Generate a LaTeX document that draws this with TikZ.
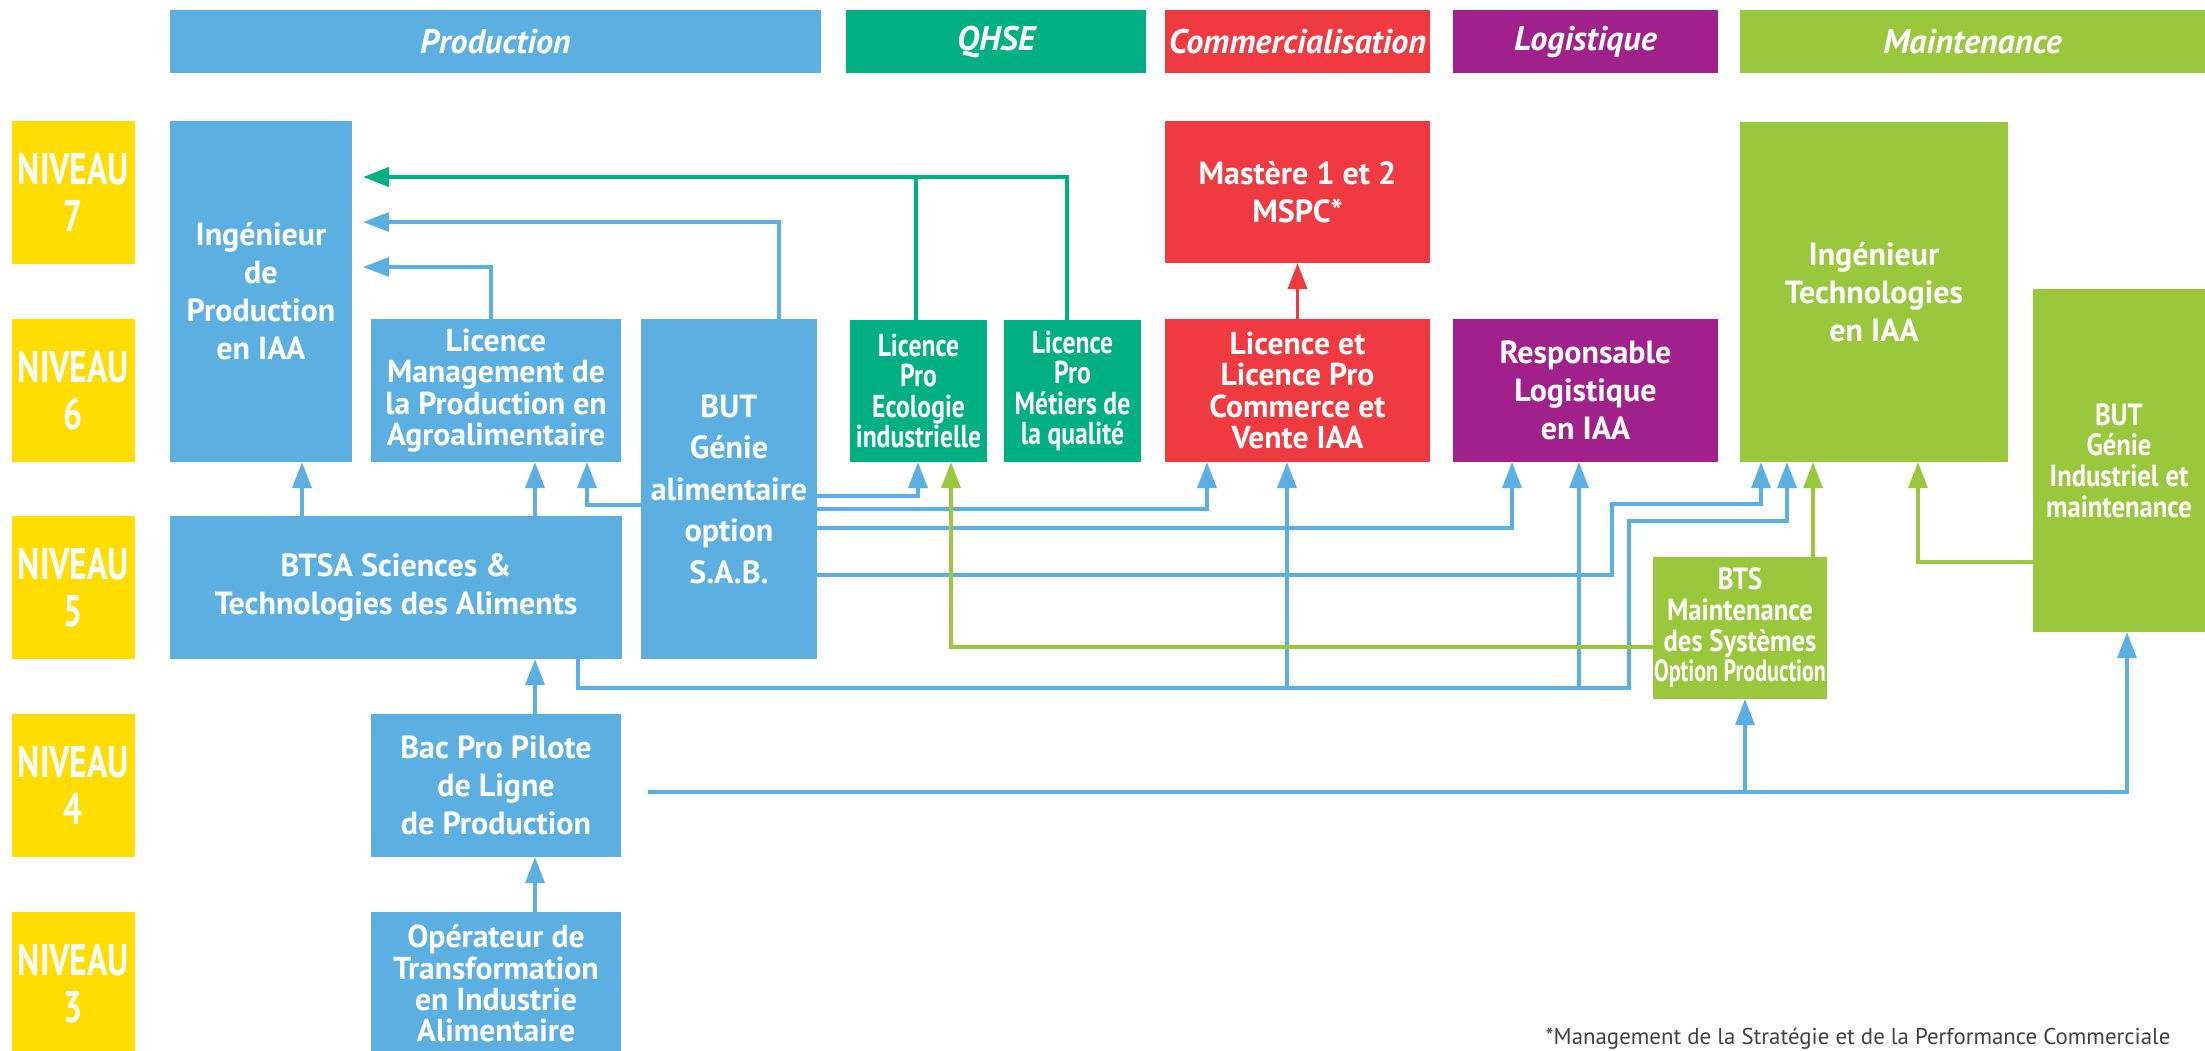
\documentclass[tikz,border=0pt]{standalone}
\usepackage{fontspec}
\setmainfont{PT Sans}
\newfontfamily\condA{PT Sans}[FakeStretch=0.81]
\newfontfamily\condB{PT Sans}[FakeStretch=0.87]
\newfontfamily\condC{PT Sans}[FakeStretch=0.72]
\newfontfamily\nivfont{PT Sans}[FakeStretch=0.76]
\usetikzlibrary{arrows.meta,calc}
\definecolor{cprod}{RGB}{91,176,225}
\definecolor{cqhse}{RGB}{0,175,130}
\definecolor{ccom}{RGB}{238,58,64}
\definecolor{clog}{RGB}{160,33,140}
\definecolor{cmaint}{RGB}{153,200,60}
\definecolor{cniv}{RGB}{255,221,0}
\newcommand\bx[7]{%
  \pgfmathsetmacro\bxcx{(#2+#4)/2}%
  \pgfmathsetmacro\bxcy{(#3+#5)/2}%
  \pgfmathsetmacro\bxw{(#4-#2)*0.1}%
  \pgfmathsetmacro\bxh{(#5-#3)*0.1}%
  \node[#6, minimum width=\bxw mm, minimum height=\bxh mm] (#1) at (\bxcx,\bxcy) {#7};}
\tikzset{
  boxn/.style={fill=#1, inner sep=0pt, outer sep=0pt, text=white, align=center},
  fA/.style={font=\bfseries\fontsize{9}{8.9}\selectfont},
  fB/.style={font=\bfseries\fontsize{9.1}{10.8}\selectfont},
  fBUT/.style={font=\bfseries\fontsize{9.1}{11.8}\selectfont},
  fLP/.style={font=\condA\bfseries\fontsize{9}{8.7}\selectfont},
  fS/.style={font=\condB\bfseries\fontsize{8.7}{8.7}\selectfont},
  fNiv/.style={font=\nivfont\bfseries\fontsize{12.6}{13.2}\selectfont},
  fHead/.style={font=\bfseries\itshape\fontsize{9.7}{11}\selectfont},
  lnk/.style={draw=#1, line width=1pt},
  arr/.style={draw=#1, line width=1pt, -{Triangle[length=7.4pt,width=5.4pt]}},
}
\begin{document}
\begin{tikzpicture}[x=0.01cm, y=-0.01cm]
\fill[white] (0,0) rectangle (2205,1050);
\useasboundingbox (0,0) rectangle (2205,1050);
% headers
\bx{hprod}{170}{10}{821}{73}{boxn=cprod, fHead}{Production}
\bx{hqhse}{846}{10}{1146}{73}{boxn=cqhse, fHead}{QHSE}
\bx{hcom}{1165}{10}{1430}{73}{boxn=ccom, fHead}{Commercialisation}
\bx{hlog}{1453}{10}{1718}{73}{boxn=clog, fHead}{Logistique}
\bx{hmaint}{1740}{10}{2205}{73}{boxn=cmaint, fHead}{Maintenance}
% levels
\bx{n7}{12}{121}{135}{264}{boxn=cniv, fNiv}{NIVEAU\\7}
\bx{n6}{12}{319}{135}{462}{boxn=cniv, fNiv}{NIVEAU\\6}
\bx{n5}{12}{516}{135}{659}{boxn=cniv, fNiv}{NIVEAU\\5}
\bx{n4}{12}{714}{135}{857}{boxn=cniv, fNiv}{NIVEAU\\4}
\bx{n3}{12}{912}{135}{1055}{boxn=cniv, fNiv}{NIVEAU\\3}
% formations
\bx{ingprod}{170}{121}{352}{462}{boxn=cprod, fB}{Ingénieur\\de\\Production\\en IAA}
\bx{lmgmt}{371}{319}{621}{462}{boxn=cprod, fA}{Licence\\Management de\\la Production en\\Agroalimentaire}
\bx{but}{641}{319}{817}{659}{boxn=cprod, fBUT}{BUT\\Génie\\alimentaire\\option\\S.A.B.}
\bx{lpeco}{850}{320}{987}{462}{boxn=cqhse, fLP}{Licence\\Pro\\Ecologie\\industrielle}
\bx{lpmet}{1004}{320}{1141}{462}{boxn=cqhse, fLP}{Licence\\Pro\\Métiers de\\la qualité}
\bx{master}{1165}{121}{1430}{263}{boxn=ccom, fB}{Mastère 1 et 2\\MSPC*}
\bx{licvente}{1165}{319}{1430}{462}{boxn=ccom, fA}{Licence et\\Licence Pro\\Commerce et\\Vente IAA}
\bx{resplog}{1453}{319}{1718}{462}{boxn=clog, fB}{Responsable\\Logistique\\en IAA}
\bx{ingtech}{1740}{122}{2008}{462}{boxn=cmaint, fB}{Ingénieur\\Technologies\\en IAA}
\bx{butgim}{2033}{289}{2205}{632}{boxn=cmaint, fS}{BUT\\Génie\\Industriel et\\maintenance}
\bx{btsmaint}{1653}{557}{1827}{699}{boxn=cmaint, fS}{BTS\\Maintenance\\des Systèmes\\{\condC Option Production}}
\bx{btsa}{170}{516}{622}{659}{boxn=cprod, fB}{BTSA Sciences \&\\Technologies des Aliments}
\bx{bacpro}{371}{714}{621}{857}{boxn=cprod, fB}{Bac Pro Pilote\\de Ligne\\de Production}
\bx{oper}{371}{912}{621}{1055}{boxn=cprod, fA}{Opérateur de\\Transformation\\en Industrie\\Alimentaire}
% footnote
\node[anchor=base west, inner sep=0pt, text=black!75, font=\fontsize{6.5}{7}\selectfont] (fn) at (1545,1044) {*Management de la Stratégie et de la Performance Commerciale};
% lanes
\foreach \v in {302,491,535,578,587,779,916,918,951,1067,1207,1287,1512,1579,1612,1629,1745,1761,1787,1813,1918,2127}
  \coordinate (x\v) at (\v,0);
\foreach \v in {496,504,505,509,521,528,562,575,647,688,792}
  \coordinate (y\v) at (0,\v);
\coordinate (g177) at ($(ingprod.east)+(11,-114.5)$);
\coordinate (b222) at ($(ingprod.east)+(11,-69.5)$);
\coordinate (b267) at ($(ingprod.east)+(11,-24.5)$);
% blue connectors
\draw[arr=cprod] (but.north -| x779) |- (b222);
\draw[arr=cprod] (lmgmt.north -| x491) |- (b267);
\draw[arr=cprod] (btsa.north -| x302) -- (ingprod.south -| x302);
\draw[arr=cprod] (btsa.north -| x535) -- (lmgmt.south -| x535);
\draw[arr=cprod] (but.west |- y505) -| (lmgmt.south -| x587);
\draw[arr=cprod] (but.east |- y496) -| (lpeco.south -| x918);
\draw[arr=cprod] (but.east |- y509) -| (licvente.south -| x1207);
\draw[arr=cprod] (but.east |- y528) -| (resplog.south -| x1512);
\draw[arr=cprod] (but.east |- y575) -| (x1612 |- y504) -| (ingtech.south -| x1761);
\draw[arr=cprod] (btsa.south -| x578) |- (x1629 |- y688) |- (x1787 |- y521) -- (ingtech.south -| x1787);
\draw[arr=cprod] (x1287 |- y688) -- (licvente.south -| x1287);
\draw[arr=cprod] (x1579 |- y688) -- (resplog.south -| x1579);
\draw[arr=cprod] (bacpro.north -| x535) -- (btsa.south -| x535);
\draw[arr=cprod] (oper.north -| x535) -- (bacpro.south -| x535);
\draw[arr=cprod] ($(bacpro.east)+(27,6.5)$) -| (butgim.south -| x2127);
\draw[arr=cprod] (x1745 |- y792) -- (btsmaint.south -| x1745);
% green connectors
\draw[lnk=cqhse, line width=1.3pt] (lpeco.north -| x916) -- (x916 |- g177);
\draw[arr=cqhse, line width=1.3pt] (lpmet.north -| x1067) |- (g177);
% lime connectors
\draw[arr=cmaint] (btsmaint.west |- y647) -| (lpeco.south -| x951);
\draw[arr=cmaint] (btsmaint.north -| x1813) -- (ingtech.south -| x1813);
\draw[arr=cmaint] (butgim.west |- y562) -| (ingtech.south -| x1918);
% red connector
\draw[arr=ccom] (licvente.north) -- (master.south);
\end{tikzpicture}
\end{document}
